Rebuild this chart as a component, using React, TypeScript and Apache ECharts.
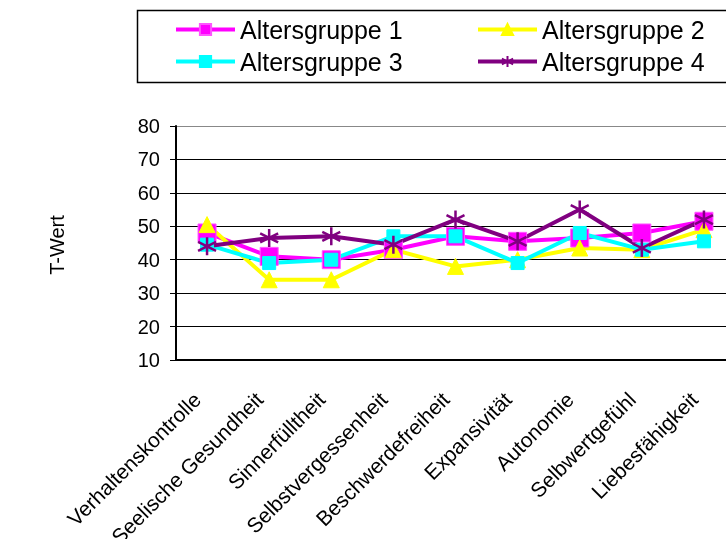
import React, { useEffect, useRef } from "react";
import * as echarts from "echarts";

const categories = [
  "Verhaltenskontrolle",
  "Seelische Gesundheit",
  "Sinnerfülltheit",
  "Selbstvergessenheit",
  "Beschwerdefreiheit",
  "Expansivität",
  "Autonomie",
  "Selbwertgefühl",
  "Liebesfähigkeit",
];
const seriesNames = ["Altersgruppe 1", "Altersgruppe 2", "Altersgruppe 3", "Altersgruppe 4"];
const group1 = [48, 41, 40, 43, 47, 45.5, 46.5, 48, 51.5];
const group2 = [50.5, 34, 34, 43, 38, 40, 43.5, 43, 49];
const group3 = [44.5, 39, 40, 47, 47, 39, 48, 43, 45.5];
const group4 = [44, 46.5, 47, 44.5, 52, 45.5, 55, 43.5, 52];
const yTicks = { min: 10, max: 80, interval: 10 };
const yAxisTitle = "T-Wert";

const FONT = "'Liberation Sans', Arial, sans-serif";
const STAR = "path://M5,0L5,10M0.7,2.5L9.3,7.5M0.7,7.5L9.3,2.5";

export default function App() {
  const ref = useRef<HTMLDivElement>(null);
  useEffect(() => {
    if (!ref.current) return;
    const chart = echarts.init(ref.current, null, { renderer: "svg" });
    const mk = (name: string, data: number[], color: string, symbol: string, size: number, extra: any = {}) => ({
      name,
      type: "line",
      data,
      symbol,
      symbolSize: size,
      showSymbol: true,
      lineStyle: { color, width: 4 },
      itemStyle: { color, borderColor: color, borderWidth: 1, ...extra },
      emphasis: { disabled: true },
    });
    const legendCommon = {
      orient: "vertical",
      top: 17,
      itemWidth: 59,
      itemHeight: 14,
      itemGap: 7,
      padding: 0,
      selectedMode: false,
      lineStyle: { width: 4 },
      textStyle: { fontFamily: FONT, fontSize: 25, color: "#000", lineHeight: 25 },
    };
    chart.setOption({
      animation: false,
      textStyle: { fontFamily: FONT },
      grid: {
        left: 176,
        right: -9,
        top: 126,
        bottom: 179,
        containLabel: false,
        outerBoundsMode: "none",
      },
      legend: [
        { ...legendCommon, left: 174, data: [seriesNames[0], seriesNames[2]] },
        { ...legendCommon, left: 476, data: [seriesNames[1], seriesNames[3]] },
      ],
      xAxis: {
        type: "category",
        data: categories,
        boundaryGap: true,
        axisLine: { show: true, lineStyle: { color: "#000", width: 2 } },
        axisTick: { show: false },
        axisLabel: {
          interval: 0,
          rotate: 45,
          fontFamily: FONT,
          fontSize: 21,
          color: "#000",
          margin: 26,
          padding: [0, 14, 0, 0],
          hideOverlap: false,
        },
        splitLine: { show: false },
      },
      yAxis: {
        type: "value",
        min: yTicks.min,
        max: yTicks.max,
        interval: yTicks.interval,
        axisLine: { show: true, lineStyle: { color: "#000", width: 2 } },
        axisTick: { show: true, length: 6, lineStyle: { color: "#000", width: 1 } },
        axisLabel: { fontFamily: FONT, fontSize: 20, color: "#000", margin: 16 },
        splitLine: {
          show: true,
          lineStyle: {
            color: ["#000", "#000", "#000", "#000", "#000", "#000", "#000", "#888"],
            width: 1,
          },
        },
      },
      graphic: [
        {
          type: "rect",
          shape: { x: 137.5, y: 10.5, width: 700, height: 72 },
          style: { fill: "none", stroke: "#000", lineWidth: 1.5 },
          silent: true,
        },
        {
          type: "text",
          x: 57,
          y: 245,
          rotation: Math.PI / 2,
          style: {
            text: yAxisTitle,
            fontFamily: FONT,
            fontSize: 20,
            fill: "#000",
            textAlign: "center",
            textVerticalAlign: "middle",
          },
          silent: true,
        },
      ],
      series: [
        mk(seriesNames[0], group1, "#FF00FF", "rect", 18, { borderColor: "#FF55FF" }),
        mk(seriesNames[1], group2, "#FFFF00", "triangle", 16),
        mk(seriesNames[2], group3, "#00FFFF", "rect", 13),
        mk(seriesNames[3], group4, "#800080", STAR, 18, { color: "#800080", borderWidth: 2.5 }),
      ],
    });
    return () => chart.dispose();
  }, []);
  return <div ref={ref} style={{ position: "fixed", left: 0, top: 0, width: 726, height: 539 }} />;
}
